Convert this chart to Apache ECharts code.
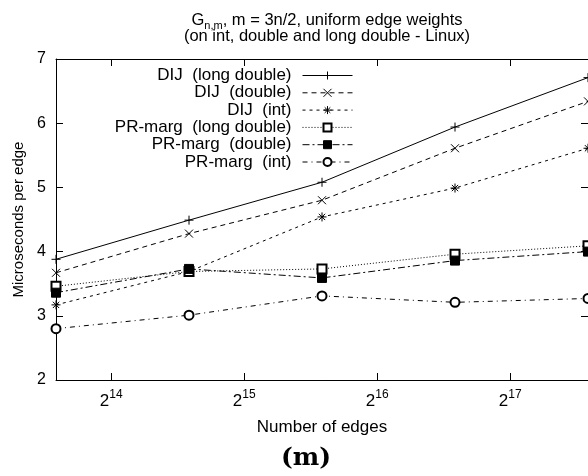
<!DOCTYPE html>
<html>
<head>
<meta charset="utf-8">
<script src="https://cdn.jsdelivr.net/npm/echarts@6/dist/echarts.min.js"></script>
<style>
  html, body { margin: 0; padding: 0; background: #fff; }
  #chart { width: 588px; height: 476px; }
</style>
</head>
<body>
<div id="chart"></div>
<script>
// number of edges m (n = 2m/3)
var edges = [12288, 24576, 49152, 98304, 196608];

// microseconds per edge
var dijLongDouble = [3.88, 4.49, 5.08, 5.94, 6.71];
var dijDouble = [3.67, 4.28, 4.80, 5.61, 6.34];
var dijInt = [3.17, 3.69, 4.54, 4.99, 5.61];
var prLongDouble = [3.46, 3.69, 3.73, 3.96, 4.09];
var prDouble = [3.36, 3.73, 3.59, 3.86, 4.00];
var prInt = [2.80, 3.01, 3.31, 3.21, 3.27];

var yTicks = [2, 3, 4, 5, 6, 7];

var FONT = "'Liberation Sans', Arial, sans-serif";

var PLUS = "path://M0,5L10,5M5,0L5,10";
var CROSS = "path://M0,0L10,10M10,0L0,10";
var STAR = "path://M0,5L10,5M5,0L5,10M1.5,1.5L8.5,8.5M8.5,1.5L1.5,8.5";

function pairs(vals) {
  return edges.map(function (m, i) { return [m, vals[i]]; });
}

function makeSeries(name, vals, symbol, size, dash) {
  return {
    name: name,
    type: "line",
    xAxisIndex: 0,
    yAxisIndex: 0,
    data: pairs(vals),
    symbol: symbol,
    symbolSize: size,
    showAllSymbol: true,
    clip: false,
    lineStyle: { color: "#000", width: 1, type: dash },
    itemStyle: { color: "#000", borderColor: "#000", borderWidth: 1 },
    emphasis: { disabled: true }
  };
}

function powLabel(v) {
  var l = Math.log2(v);
  var e = Math.round(l);
  if (Math.abs(l - e) > 0.01) return "";
  return "{b|2}{sup|" + e + "}";
}

var chart = echarts.init(document.getElementById("chart"), null, { renderer: "canvas" });

chart.setOption({
  animation: false,
  backgroundColor: "#fff",
  textStyle: { fontFamily: FONT },
  title: {
    left: 322,
    top: 8,
    textAlign: "center",
    text: "{t|G}{sub|n,m}{t|, m = 3n/2, uniform edge weights}\n{t|(on int, double and long double - Linux)}",
    textStyle: {
      fontWeight: "normal",
      rich: {
        t: { fontFamily: FONT, fontSize: 16.5, fontWeight: "normal", color: "#000", lineHeight: 15.5 },
        sub: { fontFamily: FONT, fontSize: 11, fontWeight: "normal", color: "#000", lineHeight: 15.5, verticalAlign: "bottom", padding: [0, 0, -3, 0] }
      }
    }
  },
  grid: { left: 56, right: 0, top: 59, bottom: 96 },
  legend: {
    orient: "vertical",
    align: "right",
    right: 235,
    top: 67,
    padding: 0,
    itemWidth: 50,
    itemHeight: 10,
    itemGap: 0.3,
    selectedMode: false,
    lineStyle: { width: 1 },
    itemStyle: { borderWidth: 1 },
    textStyle: { fontFamily: FONT, fontSize: 17, lineHeight: 17, color: "#000", padding: [0, 6, 0, 0] },
    data: ["DIJ  (long double)", "DIJ  (double)", "DIJ  (int)",
      "PR-marg  (long double)", "PR-marg  (double)", "PR-marg  (int)"]
  },
  xAxis: [
    {
      type: "log",
      logBase: 2,
      min: edges[0],
      max: edges[edges.length - 1],
      position: "bottom",
      axisLine: { show: true, lineStyle: { color: "#000", width: 1 } },
      axisTick: { show: true, inside: true, length: 7, lineStyle: { color: "#000" } },
      minorTick: { show: false },
      splitLine: { show: false },
      axisLabel: {
        showMinLabel: false,
        showMaxLabel: false,
        margin: 9,
        formatter: powLabel,
        rich: {
          b: { fontFamily: FONT, fontSize: 17, color: "#000", lineHeight: 21, verticalAlign: "bottom" },
          sup: { fontFamily: FONT, fontSize: 12, color: "#000", lineHeight: 21, verticalAlign: "top" }
        }
      }
    },
    {
      type: "log",
      logBase: 2,
      min: edges[0],
      max: edges[edges.length - 1],
      position: "top",
      axisLine: { show: true, lineStyle: { color: "#000", width: 1 } },
      axisTick: { show: true, inside: true, length: 7, lineStyle: { color: "#000" } },
      axisLabel: { show: false },
      splitLine: { show: false }
    }
  ],
  yAxis: [
    {
      type: "value",
      min: yTicks[0],
      max: yTicks[yTicks.length - 1],
      interval: 1,
      position: "left",
      name: "Microseconds per edge",
      nameLocation: "middle",
      nameGap: 26,
      nameTextStyle: { fontFamily: FONT, fontSize: 15, color: "#000" },
      axisLine: { show: true, lineStyle: { color: "#000", width: 1 } },
      axisTick: { show: true, inside: true, length: 7, lineStyle: { color: "#000" } },
      splitLine: { show: false },
      axisLabel: { margin: 10, fontFamily: FONT, fontSize: 16, color: "#000" }
    },
    {
      type: "value",
      min: yTicks[0],
      max: yTicks[yTicks.length - 1],
      interval: 1,
      position: "right",
      axisLine: { show: true, lineStyle: { color: "#000", width: 1 } },
      axisTick: { show: true, inside: true, length: 7, lineStyle: { color: "#000" } },
      splitLine: { show: false },
      axisLabel: { show: false }
    }
  ],
  graphic: [
    {
      type: "text",
      x: 322,
      y: 427,
      style: {
        text: "Number of edges",
        font: "17px 'Liberation Sans', Arial, sans-serif",
        fill: "#000",
        align: "center",
        verticalAlign: "middle"
      }
    },
    {
      type: "text",
      x: 306,
      y: 458,
      style: {
        text: "(m)",
        font: "bold 25px 'DejaVu Serif', serif",
        fill: "#000",
        align: "center",
        verticalAlign: "middle"
      }
    }
  ],
  series: [
    makeSeries("DIJ  (long double)", dijLongDouble, PLUS, 9, "solid"),
    makeSeries("DIJ  (double)", dijDouble, CROSS, 8, [5, 4]),
    makeSeries("DIJ  (int)", dijInt, STAR, 9, [3, 4]),
    makeSeries("PR-marg  (long double)", prLongDouble, "emptyRect", 9, [1, 2]),
    makeSeries("PR-marg  (double)", prDouble, "rect", 9, [7, 3, 2, 3]),
    makeSeries("PR-marg  (int)", prInt, "emptyCircle", 9, [5, 4, 1, 4])
  ]
});
</script>
</body>
</html>
